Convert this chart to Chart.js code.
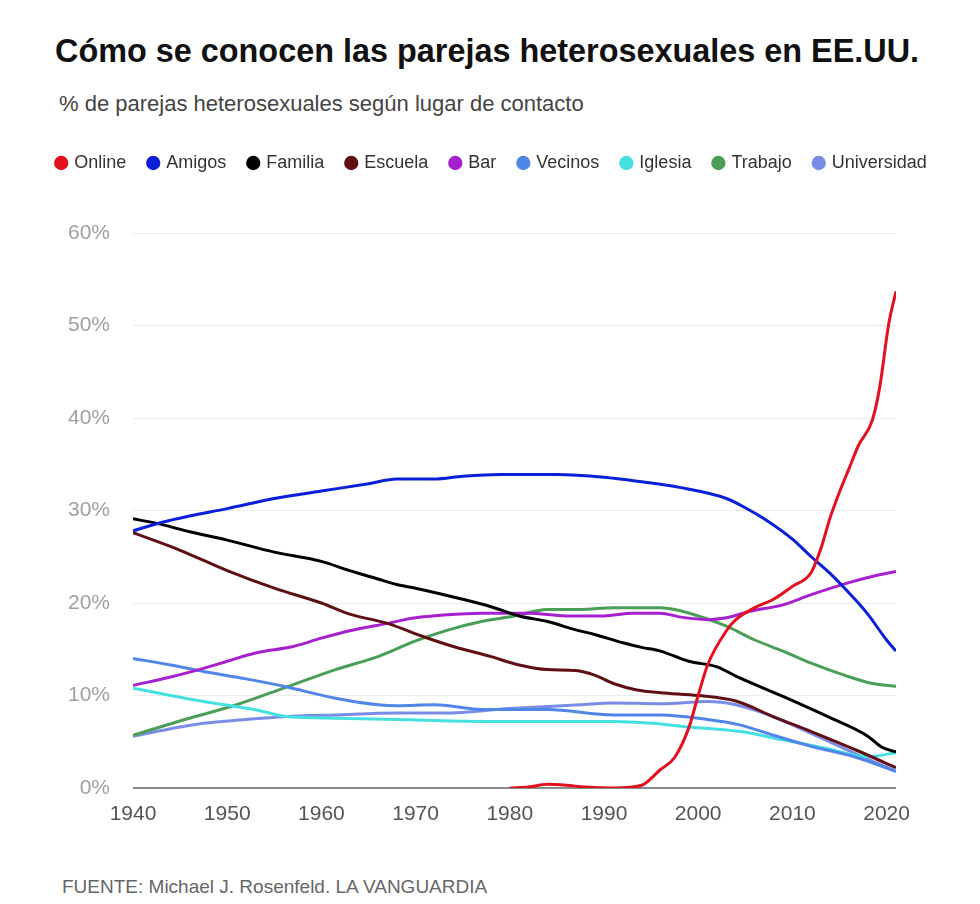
<!DOCTYPE html>
<html lang="es">
<head>
<meta charset="utf-8">
<title>Cómo se conocen las parejas heterosexuales en EE.UU.</title>
<script src="https://cdn.jsdelivr.net/npm/chart.js@4/dist/chart.umd.min.js"></script>
<style>
  html, body { margin: 0; padding: 0; background: #fff; }
  body { width: 980px; height: 904px; position: relative; overflow: hidden;
         font-family: "Liberation Sans", Arial, sans-serif; }
  h1 { position: absolute; left: 55px; top: 33px; margin: 0; line-height: 1;
       font: bold 32.4px "Liberation Sans", Arial, sans-serif; color: #111; }
  .sub { position: absolute; left: 59px; top: 92px; font-size: 22px; color: #444; line-height: 1.1; }
  .src { position: absolute; left: 62px; top: 876px; font-size: 19px; color: #666; }
  .wrap { position: absolute; left: 0; top: 130px; width: 980px; height: 700px; }
</style>
</head>
<body>
<h1>Cómo se conocen las parejas heterosexuales en EE.UU.</h1>
<div class="sub">% de parejas heterosexuales según lugar de contacto</div>
<div class="wrap"><canvas id="chart"></canvas></div>
<div class="src">FUENTE: Michael J. Rosenfeld. LA VANGUARDIA</div>

<script>
'use strict';

// ── Data: [año, %] ────────────────────────────────────────
const online = [[1980,0],[1982,0.1],[1984,0.4],[1986,0.3],[1988,0.1],[1991,0],[1994,0.3],
  [1996,2],[1997.5,3.3],[1999,6.5],[2000,10],[2001,13.3],[2003,17],[2004,18.2],[2006,19.5],
  [2008,20.4],[2010,21.8],[2012,23.3],[2013,25.8],[2014,29.2],[2015,32],[2016,34.5],
  [2017,37],[2018.5,39.8],[2019.3,43.5],[2020.2,50],[2021,53.7]];

const amigos = [[1940,27.8],[1943,28.7],[1946,29.4],[1950,30.2],[1955,31.3],[1960,32.1],
  [1965,32.9],[1968,33.4],[1972,33.4],[1975,33.7],[1979,33.9],[1985,33.9],[1990,33.6],[1994,33.1],
  [1998,32.5],[2003,31.3],[2005,30.3],[2007,29.1],[2010,26.9],[2012,25],[2014,23.2],
  [2016,21.1],[2018,18.8],[2020,16],[2021,14.8]];

const familia = [[1940,29.1],[1943,28.5],[1946,27.7],[1950,26.8],[1955,25.5],[1960,24.5],
  [1963,23.5],[1966,22.6],[1968,22],[1970,21.6],[1975,20.4],[1978,19.6],[1981,18.6],
  [1984,18],[1987,17.1],[1989,16.6],[1992,15.7],[1994,15.2],[1996,14.8],[1999,13.7],
  [2002,13.1],[2004,12.1],[2009,9.9],[2014,7.6],[2018,5.6],[2019.5,4.4],[2021,3.9]];

const escuela = [[1940,27.6],[1945,25.7],[1950,23.5],[1955,21.6],[1960,20],[1963,18.8],
  [1967,17.8],[1971,16.3],[1974,15.3],[1978,14.2],[1981,13.3],[1984,12.8],[1987,12.7],
  [1989,12.2],[1991,11.3],[1993.5,10.6],[1996,10.3],[2000,10],[2004,9.4],[2008,7.7],
  [2012,6.1],[2017,4],[2021,2.2]];

const bar = [[1940,11.1],[1944,12],[1947,12.8],[1950,13.7],[1953,14.6],[1957,15.3],
  [1960,16.2],[1963,17],[1967,17.8],[1970,18.4],[1973,18.7],[1977,18.9],[1982,18.9],
  [1986,18.6],[1990,18.6],[1993,18.9],[1996,18.9],[1998,18.5],[2001,18.2],[2003,18.4],
  [2005.5,19.1],[2009,19.8],[2012,20.9],[2016,22.2],[2019,23],[2021,23.4]];

const vecinos = [[1940,14],[1944,13.3],[1947.5,12.6],[1952,11.8],[1956,11],[1961.5,9.7],
  [1966,9],[1968,8.9],[1972,9],[1977,8.5],[1984,8.5],[1991,7.9],[1996,7.9],[2001,7.4],
  [2004.5,6.8],[2008,5.7],[2012,4.5],[2016.5,3.4],[2021,1.8]];

const iglesia = [[1940,10.8],[1944,10],[1947.5,9.35],[1953,8.45],[1956.5,7.7],[1961.5,7.55],
  [1968,7.4],[1977,7.2],[1984,7.2],[1991,7.2],[1995,7],[1999,6.6],[2004.5,6.1],[2009,5.2],
  [2013.5,4.3],[2018,3.4],[2021,3.8]];

const trabajo = [[1940,5.7],[1945.5,7.4],[1951,9],[1956,10.8],[1961.5,12.8],[1966,14.2],
  [1970,15.9],[1973.5,17.1],[1977,18],[1980.5,18.6],[1984,19.3],[1987.5,19.3],[1991,19.5],
  [1996,19.5],[1997.5,19.3],[2000,18.6],[2003,17.5],[2006,16],[2009,14.8],[2012,13.5],
  [2015.5,12.2],[2018.5,11.3],[2021,11]];

const universidad = [[1940,5.6],[1944,6.4],[1947.5,7],[1952,7.4],[1956,7.7],[1961.5,7.9],
  [1968,8.1],[1973,8.1],[1980,8.6],[1987.5,9],[1991,9.2],[1996,9.1],[2001,9.35],[2004,9],
  [2008,7.7],[2012,5.9],[2016.5,3.8],[2021,1.8]];

const seriesNames  = ['Online', 'Amigos', 'Familia', 'Escuela', 'Bar', 'Vecinos', 'Iglesia', 'Trabajo', 'Universidad'];
const seriesData   = [online, amigos, familia, escuela, bar, vecinos, iglesia, trabajo, universidad];
const seriesColors = ['#e3101e', '#0a1fd8', '#000000', '#5e1014', '#a620d0', '#4f86e8', '#45e0e0', '#4a9e57', '#7a8de6'];

const yTicks = [0, 10, 20, 30, 40, 50, 60];
const xTicks = [1940, 1950, 1960, 1970, 1980, 1990, 2000, 2010, 2020];

const FONT = '"Liberation Sans", Arial, sans-serif';

// ── Legend spacing tweak ─────────────────────────────────
const legendHeight = {
  id: 'legendHeight',
  beforeInit(chart) {
    const fit = chart.legend.fit;
    chart.legend.fit = function () {
      fit.call(this);
      this.height = 102;
    };
  }
};

// ── Chart ─────────────────────────────────────────────────
new Chart(document.getElementById('chart'), {
  type: 'line',
  data: {
    datasets: seriesNames.map((name, i) => ({
      label: name,
      data: seriesData[i].map(([x, y]) => ({ x, y })),
      borderColor: seriesColors[i],
      backgroundColor: seriesColors[i],
      borderWidth: 3,
      pointRadius: 0,
      cubicInterpolationMode: 'monotone',
      fill: false
    }))
  },
  options: {
    responsive: true, maintainAspectRatio: false, animation: false,
    layout: { padding: { left: 4, right: 0, top: 1, bottom: 0 } },
    plugins: {
      tooltip: { enabled: false },
      legend: {
        position: 'top', align: 'center',
        labels: {
          usePointStyle: true, pointStyle: 'circle', boxWidth: 8, boxHeight: 8,
          padding: 23, color: '#333',
          font: { size: 18, family: FONT }
        }
      }
    },
    scales: {
      x: {
        type: 'linear', min: 1940, max: 2021,
        afterBuildTicks: s => { s.ticks = xTicks.map(v => ({ value: v })); },
        afterFit: s => { s.height = 42; },
        grid: { display: false },
        border: { display: false },
        ticks: {
          color: '#555', padding: 6, maxRotation: 0,
          font: { size: 21, family: FONT },
          callback: v => String(v)
        }
      },
      y: {
        min: 0, max: 60,
        afterBuildTicks: s => { s.ticks = yTicks.map(v => ({ value: v })); },
        afterFit: s => { s.width = 129; },
        border: { display: false },
        grid: {
          drawTicks: false,
          color: c => c.tick.value === 0 ? '#8a8a8a' : '#ececec',
          lineWidth: c => c.tick.value === 0 ? 2 : 1
        },
        ticks: {
          color: '#a0a0a0', padding: 23,
          font: { size: 21, family: FONT },
          callback: v => v + '%'
        }
      },
      // empty right-hand axis, only reserves the margin on the right
      yRight: {
        position: 'right', min: 0, max: 60,
        afterFit: s => { s.width = 84; },
        grid: { display: false },
        border: { display: false },
        ticks: { display: false }
      }
    }
  },
  plugins: [legendHeight]
});
</script>
</body>
</html>
